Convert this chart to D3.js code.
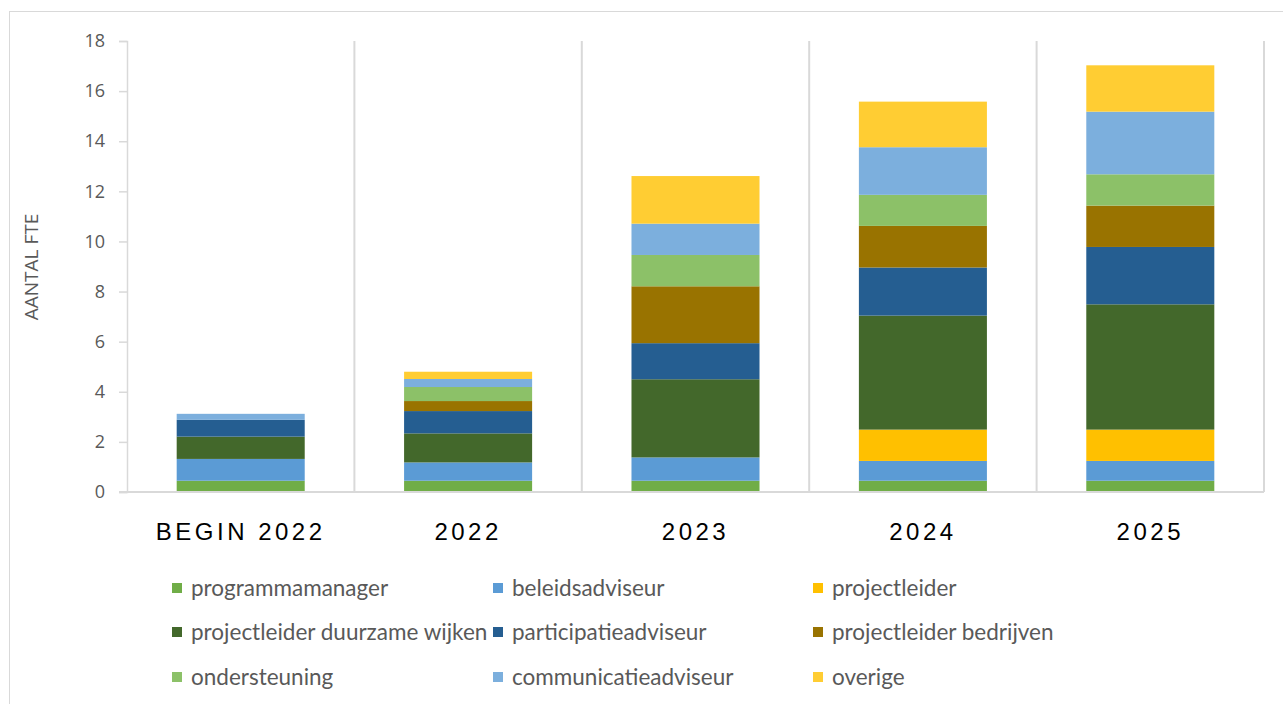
<!DOCTYPE html>
<html>
<head>
<meta charset="utf-8">
<script src="https://cdn.jsdelivr.net/npm/d3@7"></script>
<style>
  html, body { margin: 0; padding: 0; background: #fff; }
  svg { display: block; }
</style>
</head>
<body>
<div id="chart"></div>
<script>
// ── data (FTE per function) ──
const categories = ["BEGIN 2022", "2022", "2023", "2024", "2025"];

const seriesNames = [
    "programmamanager", "beleidsadviseur", "projectleider",
    "projectleider duurzame wijken", "participatieadviseur", "projectleider bedrijven",
    "ondersteuning", "communicatieadviseur", "overige"
];

const programmamanager   = [0.45, 0.45, 0.45, 0.45, 0.45];
const beleidsadviseur    = [0.87, 0.73, 0.93, 0.79, 0.79];
const projectleider      = [0, 0, 0, 1.25, 1.25];
const plDuurzameWijken   = [0.89, 1.16, 3.12, 4.55, 5.0];
const participatie       = [0.67, 0.89, 1.44, 1.92, 2.29];
const plBedrijven        = [0, 0.4, 2.27, 1.66, 1.65];
const ondersteuning      = [0, 0.56, 1.25, 1.24, 1.25];
const communicatie       = [0.24, 0.32, 1.25, 1.9, 2.5];
const overige            = [0, 0.29, 1.9, 1.82, 1.85];

const yTicks = [0, 2, 4, 6, 8, 10, 12, 14, 16, 18];

const colors = [
    "#70AD47", "#5B9BD5", "#FFC000",
    "#43682B", "#255E91", "#997300",
    "#8CC168", "#7CAFDD", "#FFCD33"
];

// ── build table for d3.stack ──
const seriesValues = [programmamanager, beleidsadviseur, projectleider, plDuurzameWijken,
    participatie, plBedrijven, ondersteuning, communicatie, overige];
const table = categories.map((c, i) => {
    const row = { cat: c };
    seriesNames.forEach((s, j) => { row[s] = seriesValues[j][i]; });
    return row;
});
const stacked = d3.stack().keys(seriesNames)(table);

// ── layout ──
const W = 1283, H = 704;
const plot = { left: 127, right: 1264, top: 41, bottom: 492 };

const svg = d3.select("#chart").append("svg")
    .attr("width", W).attr("height", H);

// outer chart frame
svg.append("rect")
    .attr("x", 9.5).attr("y", 11.5)
    .attr("width", 1300).attr("height", 720)
    .attr("fill", "#fff")
    .attr("stroke", "#d9d9d9").attr("stroke-width", 1);

const x = d3.scaleBand().domain(categories).range([plot.left, plot.right]).padding(0);
const y = d3.scaleLinear().domain([0, 18]).range([plot.bottom, plot.top]);
const barW = x.bandwidth() * 0.563;

// vertical separators between categories (and right edge)
svg.append("g")
    .selectAll("line")
    .data(categories.slice(1).concat(["__end"]))
    .join("line")
    .attr("x1", d => d === "__end" ? plot.right : x(d))
    .attr("x2", d => d === "__end" ? plot.right : x(d))
    .attr("y1", plot.top).attr("y2", plot.bottom)
    .attr("stroke", "#d9d9d9").attr("stroke-width", 2);

// bars
svg.append("g")
    .selectAll("g")
    .data(stacked)
    .join("g")
    .attr("fill", (d, i) => colors[i])
    .selectAll("rect")
    .data(d => d.map((v, i) => ({ v, cat: categories[i] })))
    .join("rect")
    .attr("x", d => x(d.cat) + (x.bandwidth() - barW) / 2)
    .attr("width", barW)
    .attr("y", d => y(d.v[1]))
    .attr("height", d => Math.max(0, y(d.v[0]) - y(d.v[1])));

// y axis
const yAxis = svg.append("g")
    .attr("transform", `translate(${plot.left},0)`)
    .call(d3.axisLeft(y).tickValues(yTicks).tickSize(8).tickPadding(14));
yAxis.select(".domain").attr("stroke", "#d9d9d9").attr("stroke-width", 1.5);
yAxis.selectAll(".tick line").attr("stroke", "#d9d9d9").attr("stroke-width", 1.5);
yAxis.selectAll(".tick text")
    .attr("fill", "#595959")
    .style("font-family", "'Open Sans', sans-serif")
    .style("font-size", "18px");

// x baseline
svg.append("line")
    .attr("x1", plot.left - 8).attr("x2", plot.right)
    .attr("y1", plot.bottom).attr("y2", plot.bottom)
    .attr("stroke", "#d9d9d9").attr("stroke-width", 2);

// x labels
svg.append("g")
    .selectAll("text")
    .data(categories)
    .join("text")
    .attr("x", d => x(d) + x.bandwidth() / 2)
    .attr("y", 540)
    .attr("text-anchor", "middle")
    .attr("fill", "#000")
    .style("font-family", "'Liberation Sans', Arial, sans-serif")
    .style("font-size", "24px")
    .style("letter-spacing", "3.5px")
    .text(d => d);

// y axis title
svg.append("text")
    .attr("transform", "translate(38,267) rotate(-90)")
    .attr("text-anchor", "middle")
    .attr("fill", "#595959")
    .attr("font-family", "'Open Sans', sans-serif")
    .attr("font-size", "19px")
    .text("AANTAL FTE");

// legend, three columns
const legX = [172, 493, 813];
const legY = [588, 632, 677];
const legend = svg.append("g")
    .selectAll("g")
    .data(seriesNames)
    .join("g")
    .attr("transform", (d, i) => `translate(${legX[i % 3]},${legY[Math.floor(i / 3)]})`);
legend.append("rect")
    .attr("x", 0).attr("y", -5)
    .attr("width", 10).attr("height", 10)
    .attr("fill", (d, i) => colors[i]);
legend.append("text")
    .attr("x", 19).attr("y", 0)
    .attr("dy", "0.35em")
    .attr("fill", "#595959")
    .style("font-family", "Lato, sans-serif")
    .style("font-size", "22.5px")
    .text(d => d);
</script>
</body>
</html>
